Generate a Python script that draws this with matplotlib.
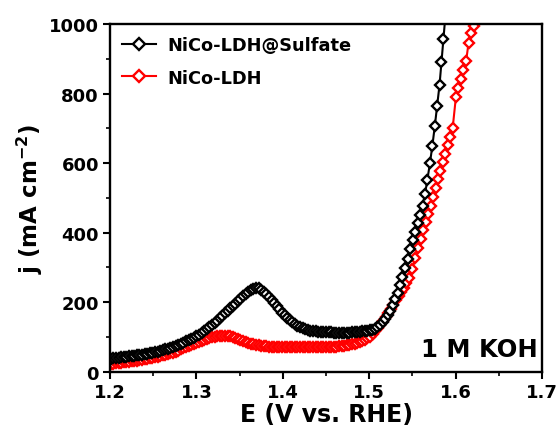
import matplotlib
matplotlib.use("Agg")
import matplotlib.pyplot as plt
from matplotlib.ticker import MultipleLocator
from matplotlib.lines import Line2D

plt.rcParams['font.family'] = ['DejaVu Sans']
plt.rcParams['font.weight'] = 'bold'
plt.rcParams['mathtext.fontset'] = 'dejavusans'
plt.rcParams['mathtext.default'] = 'bf'

# Potentials of the low-current part of the sweep (V vs. RHE), shared by both samples
E_scan = [
    1.201, 1.204, 1.207, 1.210, 1.213, 1.216, 1.219, 1.222, 1.225, 1.228,
    1.231, 1.234, 1.237, 1.240, 1.243, 1.246, 1.249, 1.252, 1.255, 1.258,
    1.261, 1.264, 1.267, 1.270, 1.273, 1.276, 1.279, 1.282, 1.285, 1.288,
    1.291, 1.294, 1.297, 1.300, 1.303, 1.306, 1.309, 1.312, 1.315, 1.318,
    1.321, 1.324, 1.327, 1.330, 1.333, 1.336, 1.339, 1.342, 1.345, 1.348,
    1.351, 1.354, 1.357, 1.360, 1.363, 1.366, 1.369, 1.372, 1.375, 1.378,
    1.381, 1.384, 1.387, 1.390, 1.393, 1.396, 1.399, 1.402, 1.405, 1.408,
    1.411, 1.414, 1.417, 1.420, 1.423, 1.426, 1.429, 1.432, 1.435, 1.438,
    1.441, 1.444, 1.447, 1.450, 1.453, 1.456, 1.459, 1.462, 1.465, 1.468,
    1.471, 1.474, 1.477, 1.480, 1.483, 1.486, 1.489, 1.492, 1.495, 1.498,
]

# NiCo-LDH@Sulfate current density (mA cm^-2)
sulfate_j_scan = [
    37, 38, 39, 40, 41, 42, 43, 44, 45, 46,
    47, 48, 49, 50, 52, 53, 55, 57, 58, 60,
    62, 64, 66, 68, 71, 74, 77, 80, 83, 87,
    90, 94, 98, 102, 107, 112, 117, 122, 128, 134,
    140, 147, 154, 161, 168, 175, 182, 189, 196, 203,
    210, 217, 224, 230, 235, 239, 241, 240, 236, 230,
    223, 215, 206, 197, 188, 179, 170, 162, 155, 148,
    142, 137, 132, 128, 125, 122, 120, 118, 117, 116,
    115, 114, 114, 113, 113, 113, 112, 112, 112, 112,
    112, 112, 112, 113, 113, 114, 115, 116, 117, 118,
]
sulfate_E_oer = [
    1.5010, 1.5035, 1.5065, 1.5095, 1.5125, 1.5155, 1.5185, 1.5215, 1.5245, 1.5274,
    1.5302, 1.5330, 1.5357, 1.5385, 1.5415, 1.5445, 1.5475, 1.5505, 1.5534, 1.5562,
    1.5590, 1.5617, 1.5645, 1.5673, 1.5703, 1.5731, 1.5759, 1.5786, 1.5814, 1.5836,
    1.5858, 1.5884,
]
sulfate_j_oer = [
    119, 120, 123, 128, 134, 142, 152, 163, 176, 191,
    209, 227, 248, 273, 298, 325, 353, 380, 403, 427,
    452, 478, 510, 552, 600, 650, 706, 764, 825, 890,
    957, 1030,
]

# NiCo-LDH current density (mA cm^-2)
ldh_j_scan = [
    22, 23, 24, 25, 26, 27, 28, 29, 30, 31,
    32, 33, 35, 36, 37, 39, 40, 42, 43, 45,
    47, 49, 51, 53, 55, 58, 61, 64, 67, 70,
    73, 76, 79, 82, 85, 88, 91, 94, 97, 99,
    101, 102, 103, 104, 104, 103, 102, 100, 98, 95,
    92, 89, 86, 83, 81, 79, 77, 76, 75, 74,
    73, 72, 72, 71, 71, 71, 70, 70, 70, 70,
    70, 70, 70, 70, 70, 70, 70, 70, 70, 70,
    70, 70, 70, 71, 71, 71, 72, 72, 73, 74,
    75, 76, 77, 79, 81, 83, 86, 89, 92, 96,
]
ldh_E_oer = [
    1.5010, 1.5040, 1.5070, 1.5100, 1.5130, 1.5160, 1.5190, 1.5220, 1.5250, 1.5280,
    1.5310, 1.5340, 1.5370, 1.5400, 1.5430, 1.5465, 1.5500, 1.5535, 1.5568, 1.5598,
    1.5626, 1.5655, 1.5684, 1.5712, 1.5740, 1.5768, 1.5795, 1.5822, 1.5853, 1.5880,
    1.5910, 1.5936, 1.5966, 1.6003, 1.6031, 1.6061, 1.6090, 1.6122, 1.6150, 1.6178,
    1.6217, 1.6255,
]
ldh_j_oer = [
    100, 108, 116, 125, 135, 146, 157, 169, 181, 193,
    205, 217, 229, 241, 254, 270, 296, 327, 355, 382,
    408, 432, 455, 478, 503, 528, 554, 578, 602, 626,
    651, 676, 701, 789, 815, 841, 867, 894, 946, 975,
    993, 1025,
]

labels = ['NiCo-LDH@Sulfate', 'NiCo-LDH']
colors = ['black', '#ff0000']

fig = plt.figure(figsize=(5.59, 4.39), dpi=100)
ax = fig.add_axes([0.1968, 0.151, 0.7728, 0.792])

style = dict(marker='D', markersize=5.0, markeredgewidth=1.7,
             markerfacecolor='white', linewidth=1.5)

ax.plot(E_scan + ldh_E_oer, ldh_j_scan + ldh_j_oer, color=colors[1],
        markeredgecolor=colors[1], label=labels[1], **style)
ax.plot(E_scan + sulfate_E_oer, sulfate_j_scan + sulfate_j_oer, color=colors[0],
        markeredgecolor=colors[0], label=labels[0], **style)

ax.set_xlim(1.2, 1.7)
ax.set_ylim(0, 1000)
ax.xaxis.set_major_locator(MultipleLocator(0.1))
ax.xaxis.set_minor_locator(MultipleLocator(0.05))
ax.yaxis.set_major_locator(MultipleLocator(200))
ax.yaxis.set_minor_locator(MultipleLocator(100))
ax.tick_params(which='major', direction='out', length=5, width=1.5,
               labelsize=13, pad=3)
ax.tick_params(which='minor', direction='out', length=3, width=1.2)
for lab in ax.get_xticklabels() + ax.get_yticklabels():
    lab.set_fontweight('bold')
for sp in ax.spines.values():
    sp.set_linewidth(1.7)

ax.set_xlabel('E (V vs. RHE)', fontsize=17, fontweight='bold', labelpad=1)
ax.set_ylabel(r'j (mA cm$^{-2}$)', fontsize=16.5, fontweight='bold', labelpad=3)

handles = [Line2D([], [], color=c, marker='D', markersize=5.8, markeredgewidth=1.7,
                  markerfacecolor='white', markeredgecolor=c, linewidth=1.5)
           for c in colors]
ax.legend(handles, labels, loc='upper left', frameon=False,
          handlelength=1.9, handletextpad=0.6, labelspacing=0.8,
          borderaxespad=0.3, prop={'weight': 'bold', 'size': 12.8})

ax.text(0.99, 0.03, '1 M KOH', transform=ax.transAxes, ha='right', va='bottom',
        fontsize=17.5, fontweight='bold')

fig.savefig('out.png', dpi=100)
